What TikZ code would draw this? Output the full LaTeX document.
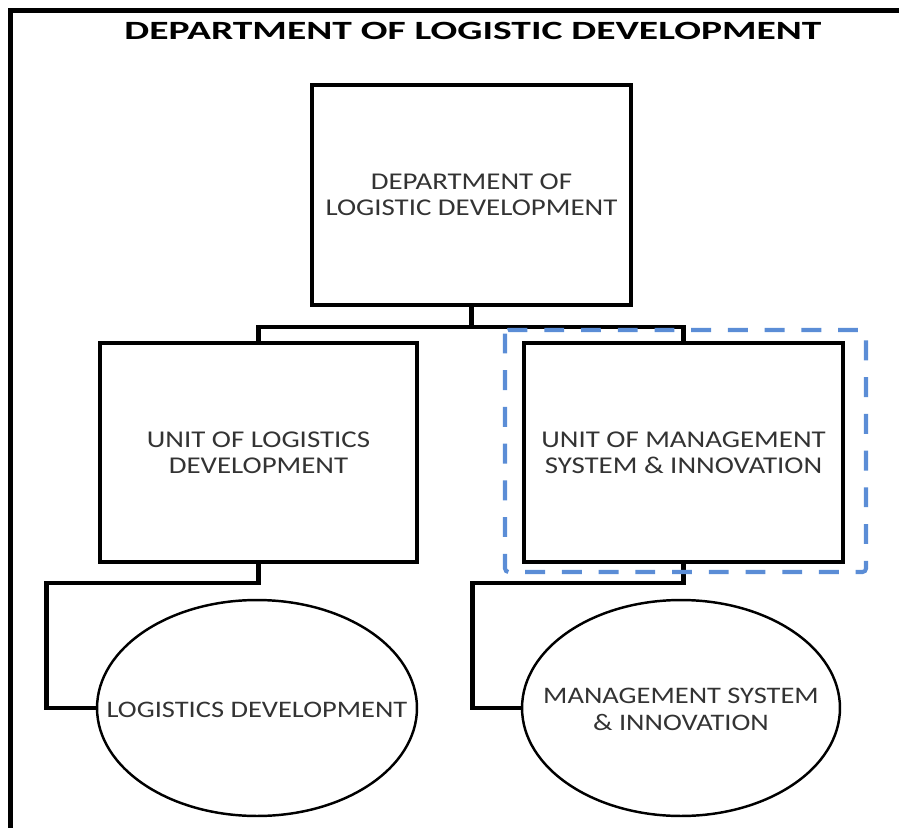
\documentclass[tikz,border=0pt]{standalone}
\usepackage{fontspec}
\setmainfont{Carlito}
\newfontfamily\headfont[FakeStretch=1.5]{Carlito}
\newfontfamily\labelfont[FakeStretch=1.2]{Carlito}
\usetikzlibrary{shapes.geometric}
\definecolor{dashblue}{HTML}{5B8DD6}
\definecolor{labelgrey}{HTML}{333333}
\newcommand\ovaltext[1]{\makebox[0pt]{\raisebox{-5.6pt}[0pt][0pt]{\begin{tabular}{@{}c@{}}#1\end{tabular}}}}

\begin{document}
\begin{tikzpicture}[x=0.02cm, y=-0.02cm,
  unitbox/.style={draw, line width=2.3pt, align=center, text=labelgrey,
    font=\labelfont\fontsize{13.7}{14.8}\selectfont},
  unitoval/.style={draw, ellipse, line width=1.4pt, inner sep=0pt, text=labelgrey,
    font=\labelfont\fontsize{13.5}{15.8}\selectfont},
  link/.style={line width=2.3pt},
  focus/.style={draw=dashblue, line width=2.3pt, dash pattern=on 11.3pt off 9.6pt, rounded corners=2pt}]
\useasboundingbox (0,0) rectangle (899,828);
% frame and heading
\draw [line width=2.8pt] (10.5,828) -- (10.5,10.5) -- (899,10.5);
\node (head) at (473,31) {\headfont\bfseries\fontsize{15}{17}\selectfont DEPARTMENT OF LOGISTIC DEVELOPMENT};
% boxes
\node [unitbox, minimum width=6.38cm, minimum height=4.4cm] (dept) at (471.5,195) {DEPARTMENT OF\\LOGISTIC DEVELOPMENT};
\node [unitbox, minimum width=6.34cm, minimum height=4.38cm] (unitlog) at (258.5,452.5) {UNIT OF LOGISTICS\\DEVELOPMENT};
\node [unitbox, minimum width=6.38cm, minimum height=4.38cm] (unitmsi) at (683.5,452.5) {UNIT OF MANAGEMENT\\SYSTEM \& INNOVATION};
% ovals
\node [unitoval, minimum width=6.4cm, minimum height=4.32cm] (logdev) at (257,708) {\ovaltext{LOGISTICS DEVELOPMENT}};
\node [unitoval, minimum width=6.36cm, minimum height=4.32cm] (msidev) at (681,708) {\ovaltext{MANAGEMENT SYSTEM\\\& INNOVATION}};
% links
\draw [link] (dept.south) -- ++(0,20) -| (unitlog.north);
\draw [link] (dept.south) ++(0,20) -| (unitmsi.north);
\draw [link] (unitlog.south) -- ++(0,19) -- ++(-212,0) |- (logdev.west);
\draw [link] (unitmsi.south) -- ++(0,19) -- ++(-211,0) |- (msidev.west);
% highlight
\draw [focus] (505,330) rectangle (866,572);
\end{tikzpicture}
\end{document}
